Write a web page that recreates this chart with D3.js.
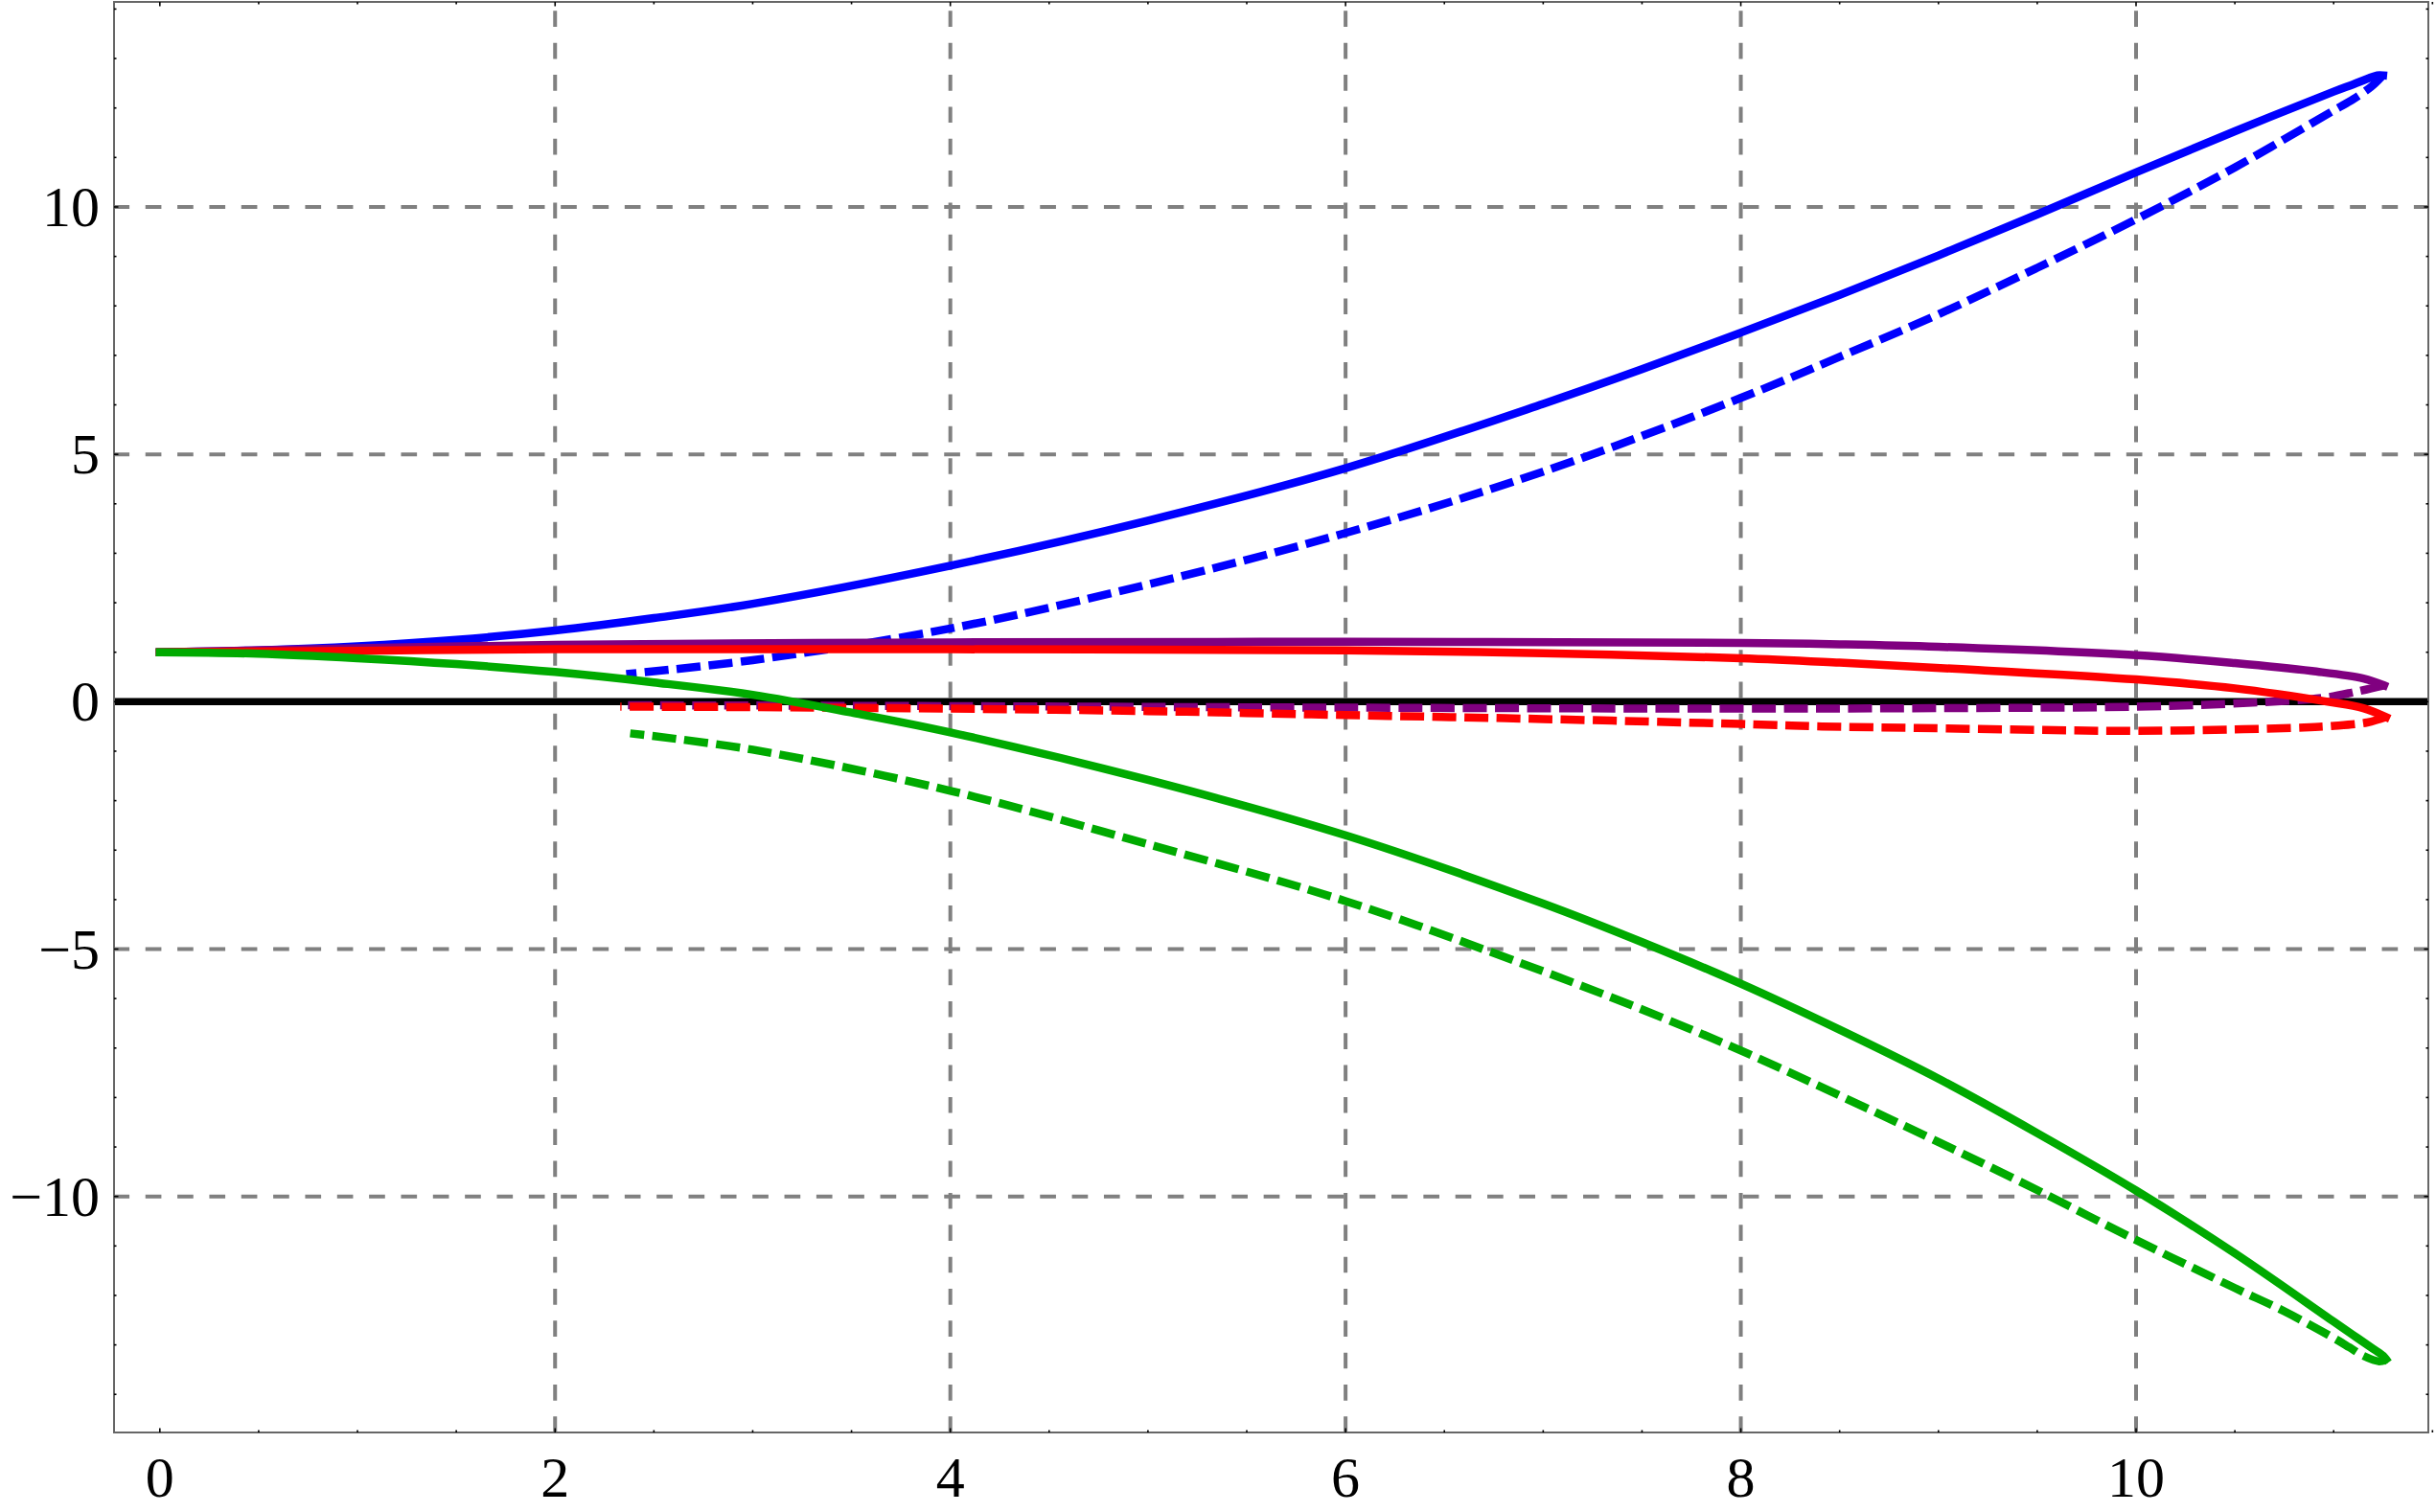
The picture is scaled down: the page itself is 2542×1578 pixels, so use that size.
<!DOCTYPE html>
<html>
<head>
<meta charset="utf-8">
<script src="https://cdn.jsdelivr.net/npm/d3@7"></script>
<style>
html, body { margin: 0; padding: 0; background: #ffffff; }
svg { display: block; }
</style>
</head>
<body>
<svg id="chart" width="2542" height="1578"></svg>
<script>
// ---------------- data ----------------
const xTicks = [0, 2, 4, 6, 8, 10];
const xTickLabels = ["0", "2", "4", "6", "8", "10"];
const yTicks = [-10, -5, 0, 5, 10];
const yTickLabels = ["\u221210", "\u22125", "0", "5", "10"];
const xGridValues = [2, 4, 6, 8, 10];
const yGridValues = [-10, -5, 5, 10];
const xDomain = [-0.2318, 11.479];
const yDomain = [-14.77, 14.144];

// solid branches run from the start to the turning point, dashed branches run back
const blueSolid = [[0,1.00],[0.5,1.04],[1,1.12],[1.5,1.25],[2,1.44],[2.5,1.69],[3,1.98],[4,2.75],[5,3.66],[6,4.72],[7,6.02],[7.5,6.72],[8,7.46],[8.5,8.22],[9,9.02],[9.5,9.85],[10,10.70],[10.5,11.53],[11,12.33],[11.1,12.48],[11.17,12.59],[11.22,12.66],[11.25,12.66]];
const blueDashed = [[11.25,12.66],[11.23,12.58],[11.19,12.43],[11.1,12.18],[11,11.95],[10.5,10.80],[10,9.75],[9.5,8.77],[9,7.83],[8.5,6.97],[8,6.14],[7,4.65],[6,3.41],[5,2.37],[4,1.48],[3,0.84],[2.36,0.56]];

const greenSolid = [[0,1.00],[0.5,0.97],[1,0.88],[1.5,0.76],[2,0.60],[2.5,0.39],[3,0.14],[3.5,-0.22],[4,-0.62],[5,-1.58],[6,-2.70],[7,-4.08],[7.5,-4.86],[8,-5.70],[8.5,-6.63],[9,-7.62],[9.5,-8.72],[10,-9.88],[10.5,-11.15],[11,-12.53],[11.12,-12.86],[11.2,-13.08],[11.25,-13.22],[11.265,-13.29]];
const greenDashed = [[11.265,-13.29],[11.23,-13.33],[11.15,-13.22],[11.08,-13.05],[11,-12.86],[10.75,-12.32],[10.5,-11.85],[10,-10.88],[9.5,-9.87],[9,-8.90],[8.5,-7.96],[8,-7.05],[7.5,-6.22],[7,-5.45],[6,-4.03],[5,-2.88],[4,-1.80],[3,-0.97],[2.38,-0.64]];

const purpleSolid = [[0,1.00],[1,1.08],[2,1.15],[4,1.20],[6,1.21],[8,1.19],[8.5,1.16],[9,1.11],[10,0.94],[10.5,0.78],[10.89,0.62],[11.15,0.47],[11.255,0.33]];
const purpleDashed = [[11.255,0.33],[11.11,0.20],[10.95,0.08],[10.59,-0.02],[10,-0.10],[9,-0.13],[8,-0.14],[6,-0.12],[4,-0.09],[2.33,-0.07]];

const redSolid = [[0,1.00],[1,1.03],[2,1.06],[4,1.06],[6,1.04],[7,0.98],[8,0.88],[8.5,0.79],[9.2,0.64],[10,0.45],[10.5,0.27],[10.97,0.00],[11.15,-0.13],[11.265,-0.31]];
const redDashed = [[11.265,-0.31],[11.17,-0.42],[10.99,-0.49],[10.85,-0.52],[10.5,-0.56],[10,-0.59],[9.5,-0.57],[8.89,-0.53],[8.41,-0.50],[8,-0.45],[7,-0.35],[6,-0.27],[5,-0.19],[4,-0.14],[3,-0.11],[2.33,-0.10]];

// ---------------- layout ----------------
const frame = { left: 119, right: 2534, top: 2, bottom: 1495 };
const svg = d3.select('#chart');

const x = d3.scaleLinear().domain(xDomain).range([frame.left, frame.right]);
const y = d3.scaleLinear().domain(yDomain).range([frame.bottom, frame.top]);

svg.append('defs').append('clipPath').attr('id', 'clip')
  .append('rect')
  .attr('x', frame.left).attr('y', frame.top)
  .attr('width', frame.right - frame.left).attr('height', frame.bottom - frame.top);

// grid lines
const grid = svg.append('g');
grid.selectAll('line.vg').data(xGridValues).join('line')
  .attr('class', 'vg')
  .attr('x1', d => x(d)).attr('x2', d => x(d))
  .attr('y1', frame.bottom).attr('y2', frame.top)
  .attr('stroke', '#808080').attr('stroke-width', 4)
  .attr('stroke-dasharray', '16.67 16.67');
grid.selectAll('line.hg').data(yGridValues).join('line')
  .attr('class', 'hg')
  .attr('x1', frame.left).attr('x2', frame.right)
  .attr('y1', d => y(d)).attr('y2', d => y(d))
  .attr('stroke', '#808080').attr('stroke-width', 4)
  .attr('stroke-dasharray', '16.67 16.67')
  .attr('stroke-dashoffset', 0.6);

// zero line
svg.append('line')
  .attr('x1', frame.left).attr('x2', frame.right)
  .attr('y1', y(0)).attr('y2', y(0))
  .attr('stroke', '#000').attr('stroke-width', 7.5);

// curves
const line = d3.line()
  .x(d => x(d[0])).y(d => y(d[1]))
  .curve(d3.curveCatmullRom.alpha(0.5));

const series = [
  { data: blueSolid, color: '#0000ff', dashed: false },
  { data: blueDashed, color: '#0000ff', dashed: true },
  { data: purpleSolid, color: '#800080', dashed: false },
  { data: purpleDashed, color: '#800080', dashed: true },
  { data: redSolid, color: '#ff0000', dashed: false },
  { data: redDashed, color: '#ff0000', dashed: true },
  { data: greenSolid, color: '#00aa00', dashed: false },
  { data: greenDashed, color: '#00aa00', dashed: true }
];

svg.append('g').attr('clip-path', 'url(#clip)')
  .selectAll('path').data(series).join('path')
  .attr('d', d => line(d.data))
  .attr('fill', 'none')
  .attr('stroke', d => d.color)
  .attr('stroke-width', 8.5)
  .attr('stroke-linejoin', 'round')
  .attr('stroke-linecap', d => d.dashed ? 'butt' : 'square')
  .attr('stroke-dasharray', d => d.dashed ? '25 8.5' : null);

// frame
svg.append('rect')
  .attr('x', frame.left).attr('y', frame.top)
  .attr('width', frame.right - frame.left).attr('height', frame.bottom - frame.top)
  .attr('fill', 'none').attr('stroke', '#666666').attr('stroke-width', 2);

// ticks (inward, on all four sides)
const xMinor = d3.range(0, 11.51, 0.5);
const yMinor = d3.range(-14, 14.01, 1);
const isXMajor = v => xTicks.includes(v);
const isYMajor = v => yTicks.includes(v);
const ticks = svg.append('g').attr('stroke', '#000').attr('stroke-width', 1.6);
ticks.selectAll('line.tb').data(xMinor).join('line')
  .attr('x1', d => x(d)).attr('x2', d => x(d))
  .attr('y1', frame.bottom).attr('y2', d => frame.bottom - (isXMajor(d) ? 4.5 : 2.5));
ticks.selectAll('line.tt').data(xMinor).join('line')
  .attr('x1', d => x(d)).attr('x2', d => x(d))
  .attr('y1', frame.top).attr('y2', d => frame.top + (isXMajor(d) ? 4.5 : 2.5));
ticks.selectAll('line.tl').data(yMinor).join('line')
  .attr('y1', d => y(d)).attr('y2', d => y(d))
  .attr('x1', frame.left).attr('x2', d => frame.left + (isYMajor(d) ? 4.5 : 2.5));
ticks.selectAll('line.tr').data(yMinor).join('line')
  .attr('y1', d => y(d)).attr('y2', d => y(d))
  .attr('x1', frame.right).attr('x2', d => frame.right - (isYMajor(d) ? 4.5 : 2.5));

// tick labels
const font = "'Liberation Serif', 'Times New Roman', serif";
svg.append('g').selectAll('text').data(xTicks).join('text')
  .attr('x', d => x(d)).attr('y', 1562)
  .attr('text-anchor', 'middle')
  .attr('font-family', font).attr('font-size', 60).attr('fill', '#000')
  .text((d, i) => xTickLabels[i]);
svg.append('g').selectAll('text').data(yTicks).join('text')
  .attr('x', 104).attr('y', d => y(d) + 20)
  .attr('text-anchor', 'end')
  .attr('font-family', font).attr('font-size', 60).attr('fill', '#000')
  .text((d, i) => yTickLabels[i]);
</script>
</body>
</html>
